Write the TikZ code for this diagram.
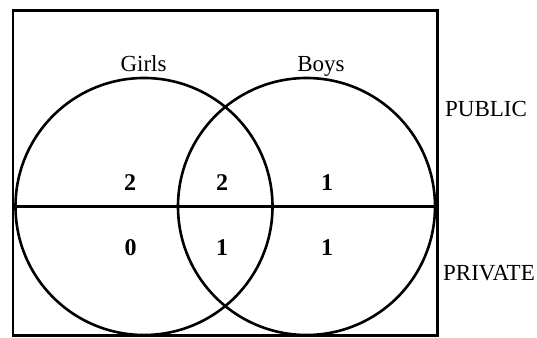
\documentclass[tikz,border=0pt]{standalone}
\usepackage{fontspec}
\setmainfont{Liberation Serif}
\begin{document}
\begin{tikzpicture}[x=1pt,y=-1pt,
  set/.style={circle,draw,line width=2.6pt,minimum size=257pt,inner sep=0pt},
  lbl/.style={font=\fontsize{23}{26}\selectfont,anchor=base,inner sep=0pt},
  num/.style={font=\fontsize{24}{26}\selectfont\bfseries,anchor=base,inner sep=0pt},
  side/.style={font=\fontsize{23}{26}\selectfont,anchor=base west,inner sep=0pt}]
\useasboundingbox (0,0) rectangle (537,337);
\draw[line width=2.2pt] (13,10.5) rectangle (437.5,335.5);
\node[set] (girls) at (144,206.5) {};
\node[set] (boys) at (306.5,206.5) {};
\coordinate (lft) at (13,206);
\coordinate (rgt) at (437.5,206);
\draw[line width=3pt] (lft) -- (rgt);
\node[lbl] (tg) at (143.5,71.5) {Girls};
\node[lbl] (tb) at (321,71.5) {Boys};
\node[side] (pub) at (445,116) {PUBLIC};
\node[side] (pri) at (443,280) {PRIVATE};
\node[num] (n1) at (130,190) {2};
\node[num] (n2) at (222,190) {2};
\node[num] (n3) at (327,190) {1};
\node[num] (n4) at (130.5,255) {0};
\node[num] (n5) at (222,255) {1};
\node[num] (n6) at (327,255) {1};
\end{tikzpicture}
\end{document}
